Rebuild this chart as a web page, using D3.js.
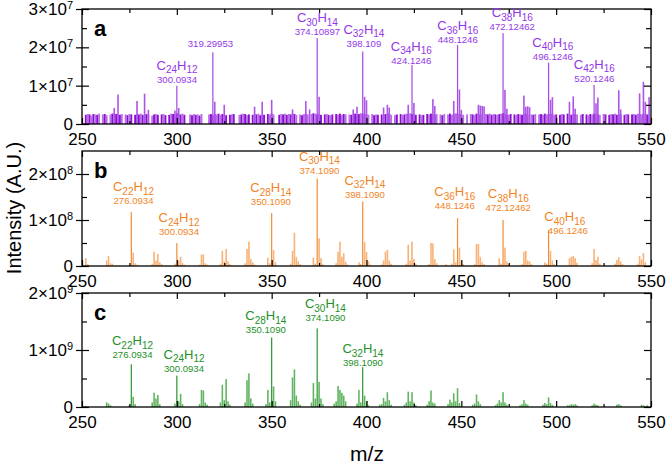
<!DOCTYPE html>
<html><head><meta charset="utf-8">
<script src="https://cdn.jsdelivr.net/npm/d3@7"></script>
<style>body{margin:0;background:#fff}svg{display:block;font-family:"Liberation Sans",Arial,sans-serif}</style>
</head><body><svg id="c" width="666" height="464"></svg>
<script>
// ---------- DATA ----------
const xTicks = [250, 300, 350, 400, 450, 500, 550];
const xMinorTicks = [275, 325, 375, 425, 475, 525];
const aYTicks = [0, 1e7, 2e7, 3e7];
const bYTicks = [0, 1e8, 2e8];
const cYTicks = [0, 1e9, 2e9];

// panel a: baseline noise, one value per integer m/z from 250 to 550 (units of 1e5)
const aNoiseStart = 250;
const aNoise = [
 0,0,24,26,25,22,26,25,24,27,
 0,25,26,23,0,25,27,28,26,25,
 24,26,0,25,23,26,25,0,24,26,
 25,27,24,23,26,25,0,22,25,26,
 24,0,25,26,23,0,24,27,26,25,
 28,26,25,27,24,0,0,25,23,26,
 24,25,22,26,0,0,0,25,26,24,
 26,25,27,24,26,25,23,0,24,25,
 26,0,0,24,25,27,26,23,25,0,
 24,26,25,27,23,25,24,0,26,25,
 27,25,0,0,24,26,25,27,24,26,
 25,27,26,24,0,25,23,26,27,25,
 0,26,28,27,25,26,24,0,25,26,
 24,23,25,0,26,25,27,24,26,25,
 0,25,24,26,27,25,26,28,27,26,
 25,24,0,26,23,25,24,0,25,24,
 26,25,27,24,0,23,25,0,26,24,
 25,27,26,28,26,25,24,0,25,23,
 24,0,26,25,27,25,24,26,0,25,
 23,26,0,25,27,24,26,28,27,26,
 25,24,0,25,0,26,25,24,27,26,
 25,24,0,26,25,27,24,26,25,24,
 26,27,28,26,25,24,26,0,25,24,
 26,25,24,26,27,25,0,25,24,26,
 0,25,26,24,27,25,26,25,27,24,
 25,0,24,26,25,0,27,26,24,25,
 26,25,0,24,26,0,25,23,26,25,
 27,26,25,24,0,26,25,0,24,26,
 25,27,24,26,25,0,24,26,25,0,
 25,26,24,27,26,25,27,26,25,24,
 0];
// panel a peaks [m/z, intensity in 1e7]
const aPeaks = [
 [267,0.42],[269,0.77],[279,0.6],[283,0.79],[285,0.37],[299,0.35],[300,1.0],[301,0.42],
 [319,1.87],[320,0.58],[325,0.5],[341,0.45],[345,0.58],[350,0.63],[361,0.38],[368,0.6],[370,0.38],
 [374,2.24],[375,0.71],[393,0.38],[395,0.45],[398,1.89],[399,0.71],[400,0.62],
 [409,0.43],[411,0.5],[412,0.43],[422,0.5],[424,1.54],[425,0.55],[435,0.65],[436,0.47],
 [446,0.6],[448,2.06],[449,0.9],[450,0.37],[459,0.5],[460,0.48],[461,0.47],[462,0.46],
 [472,2.37],[473,0.89],[474,0.4],[483,0.74],[484,0.45],[485,0.46],[486,0.44],
 [496,1.6],[497,0.63],[498,0.7],[507,0.58],[509,0.72],[510,0.4],
 [520,1.02],[521,0.54],[522,0.69],[533,0.88],[534,0.38],[544,0.8],[546,1.1],[547,0.58],[549,0.7]];
const aLabels = [
 {mz:300.0934, f:"C24H12", m:"300.0934"},
 {mz:319.29953, f:"", m:"319.29953"},
 {mz:374.10897, f:"C30H14", m:"374.10897"},
 {mz:398.109, f:"C32H14", m:"398.109"},
 {mz:424.1246, f:"C34H16", m:"424.1246"},
 {mz:448.1246, f:"C36H16", m:"448.1246"},
 {mz:472.12462, f:"C38H16", m:"472.12462"},
 {mz:496.1246, f:"C40H16", m:"496.1246"},
 {mz:520.1246, f:"C42H16", m:"520.1246"}];

// panel b peaks [m/z, intensity in 1e8]
const bPeaks = [
 [252,0.17],[253,0.04],[263,0.12],[264,0.22],[265,0.06],[266,0.05],
 [276,1.17],[277,0.29],[278,0.06],[279,0.03],
 [287,0.04],[288,0.31],[289,0.12],[290,0.26],[291,0.08],[292,0.04],
 [299,0.05],[300,0.5],[301,0.12],[302,0.2],[303,0.06],[304,0.03],
 [312,0.03],[313,0.25],[314,0.25],[315,0.06],[316,0.03],
 [323,0.05],[324,0.33],[325,0.1],[326,0.37],[327,0.1],[328,0.04],
 [336,0.06],[337,0.37],[338,0.53],[339,0.15],[340,0.08],[341,0.03],
 [348,0.18],[349,0.06],[350,1.15],[351,0.35],[352,0.08],
 [360,0.05],[361,0.33],[362,0.72],[363,0.2],[364,0.1],[365,0.04],
 [372,0.18],[373,0.05],[374,1.9],[375,0.6],[376,0.17],[377,0.04],
 [384,0.06],[385,0.31],[386,0.53],[387,0.2],[388,0.28],[389,0.09],[390,0.03],
 [396,0.08],[397,0.04],[398,1.4],[399,0.52],[400,0.3],[401,0.1],[402,0.03],
 [408,0.03],[409,0.12],[410,0.31],[411,0.35],[412,0.12],[413,0.05],
 [421,0.05],[422,0.46],[423,0.12],[424,0.53],[425,0.15],[426,0.05],
 [433,0.04],[434,0.5],[435,0.49],[436,0.15],[437,0.06],
 [442,0.04],[445,0.05],[446,0.36],[447,0.08],[448,1.04],[449,0.4],[450,0.12],[451,0.04],
 [457,0.04],[458,0.48],[459,0.48],[460,0.2],[461,0.08],[462,0.04],
 [470,0.17],[471,0.05],[472,1.0],[473,0.4],[474,0.1],[475,0.04],
 [482,0.04],[483,0.31],[484,0.33],[485,0.12],[486,0.1],[487,0.04],
 [494,0.08],[495,0.05],[496,0.78],[497,0.33],[498,0.12],[499,0.04],
 [507,0.17],[508,0.2],[509,0.22],[510,0.17],[511,0.07],
 [519,0.06],[520,0.37],[521,0.13],[522,0.2],[523,0.05],
 [531,0.05],[532,0.13],[533,0.19],[534,0.1],[535,0.04],
 [543,0.05],[544,0.22],[545,0.14],[546,0.28],[547,0.08]];
const bLabels = [
 {mz:276.0934, f:"C22H12", m:"276.0934"},
 {mz:300.0934, f:"C24H12", m:"300.0934"},
 {mz:350.1090, f:"C28H14", m:"350.1090"},
 {mz:374.1090, f:"C30H14", m:"374.1090"},
 {mz:398.1090, f:"C32H14", m:"398.1090"},
 {mz:448.1246, f:"C36H16", m:"448.1246"},
 {mz:472.12462, f:"C38H16", m:"472.12462"},
 {mz:496.1246, f:"C40H16", m:"496.1246"}];

// panel c peaks [m/z, intensity in 1e9]
const cPeaks = [
 [252,0.02],[263,0.08],[264,0.06],[265,0.03],
 [275,0.03],[276,0.75],[277,0.18],[278,0.05],
 [287,0.08],[288,0.25],[289,0.15],[290,0.21],[291,0.05],
 [299,0.06],[300,0.55],[301,0.1],[302,0.23],[303,0.05],
 [312,0.05],[313,0.3],[314,0.29],[315,0.08],[316,0.04],
 [323,0.08],[324,0.39],[325,0.12],[326,0.49],[327,0.1],[328,0.04],
 [336,0.08],[337,0.47],[338,0.59],[339,0.15],[340,0.06],
 [347,0.05],[348,0.3],[349,0.08],[350,1.22],[351,0.36],[352,0.1],
 [360,0.12],[361,0.52],[362,0.66],[363,0.2],[364,0.1],[365,0.04],
 [371,0.08],[372,0.42],[373,0.15],[374,1.38],[375,0.44],[376,0.15],[377,0.05],
 [383,0.06],[384,0.1],[385,0.37],[386,0.3],[387,0.25],[388,0.2],[389,0.1],
 [395,0.06],[396,0.3],[397,0.08],[398,0.7],[399,0.2],[400,0.1],[401,0.03],
 [407,0.04],[408,0.05],[409,0.16],[410,0.1],[411,0.26],[412,0.12],[413,0.04],
 [420,0.04],[421,0.08],[422,0.27],[423,0.1],[424,0.26],[425,0.08],[426,0.03],
 [432,0.04],[433,0.1],[434,0.29],[435,0.08],[436,0.06],
 [443,0.05],[444,0.13],[445,0.08],[446,0.24],[447,0.1],[448,0.33],[449,0.07],
 [456,0.04],[457,0.06],[458,0.22],[459,0.1],[460,0.05],
 [468,0.03],[469,0.06],[470,0.12],[471,0.08],[472,0.26],[473,0.08],[474,0.04],
 [481,0.03],[482,0.05],[483,0.12],[484,0.06],[485,0.04],
 [493,0.04],[494,0.07],[495,0.05],[496,0.17],[497,0.07],[498,0.04],
 [506,0.03],[507,0.03],[508,0.05],[509,0.04],[510,0.05],[511,0.03],
 [519,0.03],[520,0.06],[521,0.04],[522,0.03],
 [532,0.04],[533,0.05],[534,0.03],[545,0.04],[546,0.03],[548,0.03]];
const cLabels = [
 {mz:276.0934, f:"C22H12", m:"276.0934"},
 {mz:300.0934, f:"C24H12", m:"300.0934"},
 {mz:350.1090, f:"C28H14", m:"350.1090"},
 {mz:374.1090, f:"C30H14", m:"374.1090"},
 {mz:398.1090, f:"C32H14", m:"398.1090"}];

// ---------- LAYOUT (label nudges in px, not data) ----------
const aNudge = [{dx:0,dy:0},{dx:-3,dy:-2},{dx:0,dy:0},{dx:1,dy:-2},{dx:-1,dy:2},{dx:0,dy:1},{dx:9,dy:0},{dx:4,dy:0},{dx:0,dy:0}];
const bNudge = [{dx:2,dy:0},{dx:2,dy:0},{dx:-1,dy:0},{dx:2,dy:3},{dx:2,dy:4},{dx:-3,dy:-1},{dx:5,dy:-1},{dx:19,dy:12,fdx:-3}];
const cNudge = [{dx:1,dy:-2},{dx:7,dy:0},{dx:-6,dy:0},{dx:8,dy:-3},{dx:0,dy:3}];

const panels = [
 {id:"a", top:9, bottom:124, yMax:3e7, exp:7, yTicks:aYTicks, noise:aNoise, peaks:aPeaks, labels:aLabels, nudge:aNudge, gap:3,
  barCol:"#ad55e6", noiseCols:["#8c10d0","#b86fe8"], labelCol:"#9436e8", mainCol:"#a648e4"},
 {id:"b", top:151, bottom:266, yMax:2.5e8, exp:8, yTicks:bYTicks, noise:null, peaks:bPeaks, labels:bLabels, nudge:bNudge, gap:8,
  barCol:"#f9b277", labelCol:"#f2841f", mainCol:"#f28c33"},
 {id:"c", top:293, bottom:407, yMax:2e9, exp:9, yTicks:cYTicks, noise:null, peaks:cPeaks, labels:cLabels, nudge:cNudge, gap:4,
  barCol:"#63b563", labelCol:"#23902a", mainCol:"#2a962e"}
];

// ---------- DRAW ----------
const svg = d3.select("#c");
const x = d3.scaleLinear().domain([250, 550]).range([82, 651]);

function addFormula(t, f) {
  const parts = f.match(/[A-Z][a-z]?|\d+/g) || [];
  let sub = false;
  parts.forEach(p => {
    const isNum = /\d/.test(p);
    const ts = t.append("tspan").text(p);
    if (isNum && !sub) { ts.attr("dy", 3.5).attr("font-size", 10); sub = true; }
    else if (isNum) { ts.attr("font-size", 10); }
    else if (sub) { ts.attr("dy", -3.5); sub = false; }
  });
}

panels.forEach(P => {
  const unit = Math.pow(10, P.exp);
  const y = d3.scaleLinear().domain([0, P.yMax]).range([P.bottom, P.top]);
  const g = svg.append("g");
  const barW = 1.6;

  // noise
  if (P.noise) {
    const nd = P.noise.map((v, i) => [aNoiseStart + i, v * unit / 100]).filter(d => d[1] > 0);
    g.append("g").selectAll("rect").data(nd).join("rect")
      .attr("x", d => x(d[0]) - 0.95).attr("width", 1.9)
      .attr("y", d => y(d[1])).attr("height", d => y(0) - y(d[1]))
      .attr("fill", d => P.noiseCols[d[0] % 2]);
  }
  // peaks
  const labelSet = new Set(P.labels.map(L => Math.round(L.mz)));
  g.append("g").selectAll("rect").data(P.peaks).join("rect")
    .attr("x", d => x(d[0]) - (labelSet.has(d[0]) ? 0.6 : barW / 2))
    .attr("width", d => labelSet.has(d[0]) ? 1.2 : barW)
    .attr("y", d => y(d[1] * unit)).attr("height", d => y(0) - y(d[1] * unit))
    .attr("fill", d => labelSet.has(d[0]) ? P.mainCol : P.barCol);

  // frame
  g.append("rect").attr("x", x(250)).attr("y", P.top).attr("width", x(550) - x(250)).attr("height", P.bottom - P.top)
    .attr("fill", "none").attr("stroke", "#000").attr("stroke-width", 1.3);

  // axes
  const tickStyle = sel => { sel.select(".domain").remove(); sel.selectAll("line").attr("stroke", "#000").attr("stroke-width", 1.2); };
  const bottom = g.append("g").attr("transform", `translate(0,${P.bottom})`)
    .call(d3.axisBottom(x).tickValues(xTicks).tickSize(-6).tickPadding(9).tickFormat(d3.format("d")));
  bottom.call(tickStyle);
  bottom.selectAll("text").attr("font-size", 17).attr("font-family", "Liberation Sans, Arial, sans-serif").attr("fill", "#000");
  g.append("g").attr("transform", `translate(0,${P.bottom})`)
    .call(d3.axisBottom(x).tickValues(xMinorTicks).tickSize(-3).tickFormat("")).call(tickStyle);
  g.append("g").attr("transform", `translate(0,${P.top})`)
    .call(d3.axisTop(x).tickValues(xTicks).tickSize(-6).tickFormat("")).call(tickStyle);
  g.append("g").attr("transform", `translate(0,${P.top})`)
    .call(d3.axisTop(x).tickValues(xMinorTicks).tickSize(-4).tickFormat("")).call(tickStyle);

  const minorY = d3.range(0.5 * unit, P.yMax, unit);
  const left = g.append("g").attr("transform", `translate(${x(250)},0)`)
    .call(d3.axisLeft(y).tickValues(P.yTicks).tickSize(6).tickPadding(3));
  left.call(tickStyle);
  left.selectAll("text").attr("font-size", 17).attr("font-family", "Liberation Sans, Arial, sans-serif").attr("fill", "#000")
    .each(function (d) {
      const t = d3.select(this); t.text(null);
      if (d === 0) { t.text("0"); return; }
      t.append("tspan").text(`${Math.round(d / unit)}×10`);
      t.append("tspan").attr("dy", "-0.55em").attr("font-size", 11).text(P.exp);
    });
  g.append("g").attr("transform", `translate(${x(250)},0)`)
    .call(d3.axisRight(y).tickValues(P.yTicks).tickSize(7).tickFormat("")).call(tickStyle);
  g.append("g").attr("transform", `translate(${x(250)},0)`)
    .call(d3.axisRight(y).tickValues(minorY).tickSize(5).tickFormat("")).call(tickStyle);
  g.append("g").attr("transform", `translate(${x(550)},0)`)
    .call(d3.axisLeft(y).tickValues(P.yTicks).tickSize(7).tickFormat("")).call(tickStyle);
  g.append("g").attr("transform", `translate(${x(550)},0)`)
    .call(d3.axisLeft(y).tickValues(minorY).tickSize(5).tickFormat("")).call(tickStyle);

  // panel letter
  g.append("text").attr("x", 94).attr("y", P.top + 27).attr("font-size", 22).attr("font-weight", "bold").text(P.id);

  // peak labels
  P.labels.forEach((L, i) => {
    const pk = P.peaks.find(p => p[0] === Math.round(L.mz));
    const nd = P.nudge[i] || {dx:0, dy:0};
    const topY = y(pk[1] * unit);
    const base = topY - P.gap + nd.dy;
    const cx = x(L.mz) + nd.dx;
    g.append("text").attr("x", cx).attr("y", base).attr("text-anchor", "middle")
      .attr("font-size", 9.6).attr("fill", P.labelCol).text(L.m);
    if (L.f) {
      const ft = g.append("text").attr("x", cx + (nd.fdx || 0)).attr("y", base - 13).attr("text-anchor", "middle")
        .attr("font-size", 13).attr("fill", P.labelCol);
      addFormula(ft, L.f);
    }
  });
});

// axis titles
svg.append("text").attr("transform", "translate(21,208) rotate(-90)").attr("text-anchor", "middle")
  .attr("font-size", 20).text("Intensity (A.U.)");
svg.append("text").attr("x", 367).attr("y", 461).attr("text-anchor", "middle").attr("font-size", 21).text("m/z");
</script></body></html>
